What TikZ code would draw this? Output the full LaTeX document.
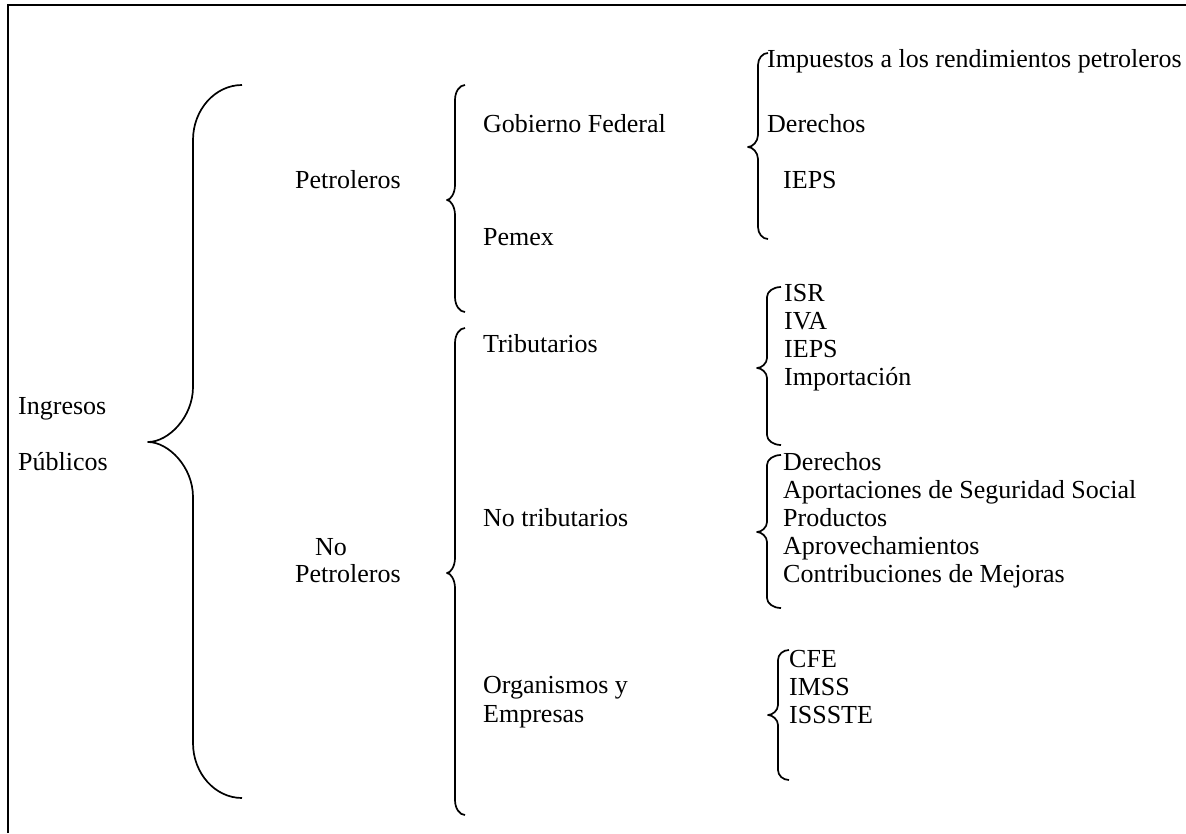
\documentclass[tikz,border=0pt]{standalone}
\usepackage{fontspec}
\setmainfont{Liberation Serif}
\begin{document}
\begin{tikzpicture}[x=1pt,y=-1pt,
  txt/.style={anchor=base west, inner sep=0pt, font=\fontsize{26}{30}\selectfont},
  brc/.style={line width=1.7pt, line join=round},
  frame/.style={line width=2.2pt}]
\useasboundingbox (0,0) rectangle (1186,833);
% frame (top and left only)
\draw[frame] (8,833) -- (8,5) -- (1186,5);
% brace macro: v, tip x, end x, y top, y tip, y bottom, radius
\newcommand{\curlybr}[7]{%
\draw[brc] (#3,#4) .. controls ({#1+0.45*(#3-#1)},#4) and (#1,{#4+0.45*#7}) .. (#1,{#4+#7})
  -- (#1,{#5-#7}) .. controls (#1,{#5-0.45*#7}) and ({#2+0.45*(#1-#2)},#5) .. (#2,#5)
  .. controls ({#2+0.45*(#1-#2)},#5) and (#1,{#5+0.45*#7}) .. (#1,{#5+#7})
  -- (#1,{#6-#7}) .. controls (#1,{#6-0.45*#7}) and ({#1+0.45*(#3-#1)},#6) .. (#3,#6);}
% level 0
\node[txt] (ing) at (18,414) {Ingresos};
\node[txt] (pub) at (18,470) {Públicos};
\curlybr{193}{148}{242}{85}{442}{798}{55}
% level 1
\node[txt] (pet) at (295,188) {Petroleros};
\node[txt] (nop1) at (315,555) {No};
\node[txt] (nop2) at (295,582) {Petroleros};
\curlybr{455}{447}{465}{85}{200}{312}{15}
\curlybr{455}{447}{465}{328}{573}{815}{15}
% level 2
\node[txt] (gf) at (483,132) {Gobierno Federal};
\node[txt] (pem) at (483,245) {Pemex};
\node[txt] (tri) at (483,352) {Tributarios};
\node[txt] (ntr) at (483,526) {No tributarios};
\node[txt] (org1) at (483,693) {Organismos y};
\node[txt] (org2) at (483,722) {Empresas};
% level 3 braces
\curlybr{758}{748}{768}{53}{147}{239}{12}
\curlybr{767}{757}{781}{287}{368}{445}{10}
\curlybr{767}{757}{781}{455}{532}{608}{10}
\curlybr{778}{768}{789}{650}{715}{780}{10}
% level 3 texts
\node[txt] (irp) at (767,67) {Impuestos a los rendimientos petroleros};
\node[txt] (der1) at (767,132) {Derechos};
\node[txt] (ieps1) at (783,188) {IEPS};
\node[txt] (isr) at (784,301) {ISR};
\node[txt] (iva) at (784,329) {IVA};
\node[txt] (ieps2) at (784,357) {IEPS};
\node[txt] (imp) at (784,385) {Importación};
\node[txt] (der2) at (783,470) {Derechos};
\node[txt] (apo) at (783,498) {Aportaciones de Seguridad Social};
\node[txt] (pro) at (783,526) {Productos};
\node[txt] (apr) at (783,554) {Aprovechamientos};
\node[txt] (con) at (783,582) {Contribuciones de Mejoras};
\node[txt] (cfe) at (789,667) {CFE};
\node[txt] (imss) at (789,695) {IMSS};
\node[txt] (iss) at (789,723) {ISSSTE};
\end{tikzpicture}
\end{document}
